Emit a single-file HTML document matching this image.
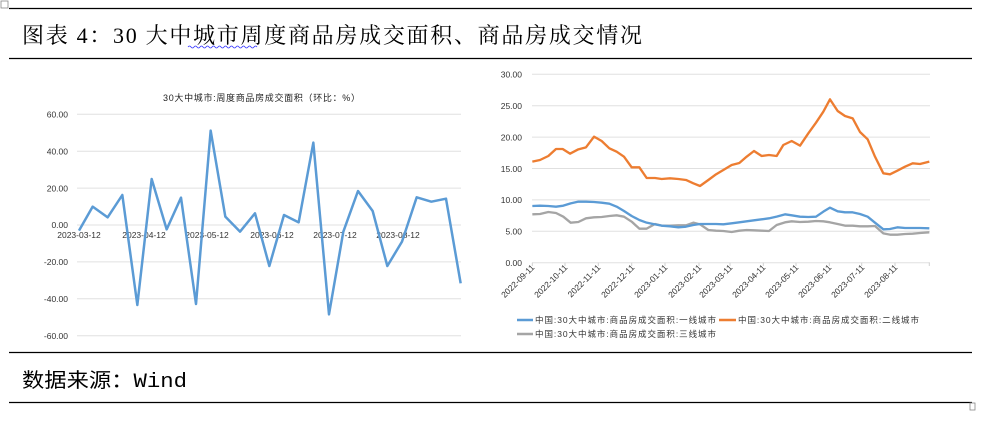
<!DOCTYPE html>
<html><head><meta charset="utf-8"><style>
html,body{margin:0;padding:0;background:#fff;}
svg{display:block;}
.t{font-family:"Liberation Sans","Noto Sans CJK SC",sans-serif;fill:#333;}
</style></head><body>
<svg width="989" height="426" xmlns="http://www.w3.org/2000/svg">
<rect x="1" y="1" width="7" height="7" fill="none" stroke="#888" stroke-width="0.8"/>
<line x1="9" y1="8.5" x2="972" y2="8.5" stroke="#000" stroke-width="1.2"/>
<line x1="9" y1="58.5" x2="972" y2="58.5" stroke="#000" stroke-width="1.2"/>
<text x="22" y="43" font-family="'Liberation Serif','Noto Serif CJK SC',serif" font-size="22" fill="#000" textLength="620" lengthAdjust="spacing">图表 4：30 大中城市周度商品房成交面积、商品房成交情况</text>
<path d="M188 47 q1.5 -2 3 0 t3 0 t3 0 t3 0 t3 0 t3 0 t3 0 t3 0 t3 0 t3 0 t3 0 t3 0 t3 0 t3 0 t3 0 t3 0 t3 0 t3 0 t3 0 t3 0 t3 0 t3 0 t3 0" fill="none" stroke="#33f" stroke-width="0.8"/>
<line x1="9" y1="352.5" x2="972" y2="352.5" stroke="#000" stroke-width="1.2"/>
<line x1="9" y1="402.5" x2="972" y2="402.5" stroke="#000" stroke-width="1.2"/>
<rect x="970" y="403" width="5" height="7" fill="none" stroke="#888" stroke-width="0.8"/>
<text x="22" y="387" font-family="'Liberation Mono','Noto Sans CJK SC',monospace" font-size="20" fill="#000" textLength="165" lengthAdjust="spacingAndGlyphs">数据来源：Wind</text>

<!-- Left chart -->
<text x="163" y="101" font-size="9" class="t" style="fill:#222" textLength="197" lengthAdjust="spacing">30大中城市:周度商品房成交面积（环比：%）</text>
<g stroke="#e0e0e0" stroke-width="1">
<line x1="77" y1="114.3" x2="461" y2="114.3"/><line x1="77" y1="151.2" x2="461" y2="151.2"/>
<line x1="77" y1="188.1" x2="461" y2="188.1"/><line x1="77" y1="225" x2="461" y2="225"/>
<line x1="77" y1="261.9" x2="461" y2="261.9"/><line x1="77" y1="298.8" x2="461" y2="298.8"/>
<line x1="77" y1="335.7" x2="461" y2="335.7"/>
</g>
<g font-size="8.5" text-anchor="end" class="t">
<text x="68" y="117.5">60.00</text><text x="68" y="154.5">40.00</text><text x="68" y="191.5">20.00</text>
<text x="68" y="228">0.00</text><text x="68" y="265">-20.00</text><text x="68" y="302">-40.00</text><text x="68" y="339">-60.00</text>
</g>
<g font-size="8.5" text-anchor="middle" class="t">
<text x="79" y="238">2023-03-12</text><text x="144" y="238">2023-04-12</text><text x="207" y="238">2023-05-12</text>
<text x="272" y="238">2023-06-12</text><text x="335" y="238">2023-07-12</text><text x="398" y="238">2023-08-12</text>
</g>
<g transform="translate(0,80) scale(0.33333)">
<polyline fill="none" stroke="#5b9bd5" stroke-width="7.5" stroke-linejoin="round" points="237,452 278,380 323,412 367,345 412,675 455,297 500,448 543,353 588,672 632,152 676,410 720,455 765,400 808,558 852,405 896,427 940,188 987,703 1030,455 1074,333 1118,393 1162,558 1206,485 1250,352 1294,365 1338,356 1382,610"/>
</g>

<!-- Right chart -->
<g stroke="#e0e0e0" stroke-width="1">
<line x1="532" y1="74.3" x2="930" y2="74.3"/><line x1="532" y1="105.7" x2="930" y2="105.7"/>
<line x1="532" y1="137.1" x2="930" y2="137.1"/><line x1="532" y1="168.5" x2="930" y2="168.5"/>
<line x1="532" y1="199.9" x2="930" y2="199.9"/><line x1="532" y1="231.3" x2="930" y2="231.3"/>
<line x1="532" y1="262.7" x2="930" y2="262.7"/>
</g>
<g stroke="#d0d0d0" stroke-width="1">
<line x1="532.3" y1="262.7" x2="532.3" y2="266"/><line x1="565" y1="262.7" x2="565" y2="266"/><line x1="598.3" y1="262.7" x2="598.3" y2="266"/><line x1="631.7" y1="262.7" x2="631.7" y2="266"/><line x1="665" y1="262.7" x2="665" y2="266"/><line x1="699" y1="262.7" x2="699" y2="266"/><line x1="730" y1="262.7" x2="730" y2="266"/><line x1="763.3" y1="262.7" x2="763.3" y2="266"/><line x1="796" y1="262.7" x2="796" y2="266"/><line x1="829.3" y1="262.7" x2="829.3" y2="266"/><line x1="861.7" y1="262.7" x2="861.7" y2="266"/><line x1="895" y1="262.7" x2="895" y2="266"/><line x1="929.3" y1="262.7" x2="929.3" y2="266"/>
</g>
<g font-size="8.5" text-anchor="end" class="t">
<text x="522" y="77.5">30.00</text><text x="522" y="109">25.00</text><text x="522" y="140.5">20.00</text>
<text x="522" y="172">15.00</text><text x="522" y="203">10.00</text><text x="522" y="234.5">5.00</text><text x="522" y="266">0.00</text>
</g>
<g font-size="8.5" text-anchor="end" class="t">
<text transform="translate(535,268) rotate(-45)">2022-09-11</text>
<text transform="translate(568,268) rotate(-45)">2022-10-11</text>
<text transform="translate(601,268) rotate(-45)">2022-11-11</text>
<text transform="translate(635,268) rotate(-45)">2022-12-11</text>
<text transform="translate(668,268) rotate(-45)">2023-01-11</text>
<text transform="translate(702,268) rotate(-45)">2023-02-11</text>
<text transform="translate(733,268) rotate(-45)">2023-03-11</text>
<text transform="translate(766,268) rotate(-45)">2023-04-11</text>
<text transform="translate(799,268) rotate(-45)">2023-05-11</text>
<text transform="translate(832,268) rotate(-45)">2023-06-11</text>
<text transform="translate(865,268) rotate(-45)">2023-07-11</text>
<text transform="translate(898,268) rotate(-45)">2023-08-11</text>
</g>
<g transform="translate(480,60) scale(0.33333)" fill="none" stroke-width="7" stroke-linejoin="round">
<polyline stroke="#a5a5a5" points="157,463 180,462 205,456 228,459 250,470 272,488 295,486 318,475 342,472 365,471 388,468 410,466 432,470 455,485 478,506 500,506 525,492 545,497 570,497 595,496 618,496 640,488 660,493 685,510 708,512 730,513 755,516 778,512 800,510 822,511 845,512 867,513 890,495 915,487 935,484 960,486 985,485 1008,483 1030,484 1050,487 1073,492 1095,497 1118,497 1140,499 1163,499 1185,498 1210,520 1230,524 1252,524 1275,522 1298,521 1320,519 1348,517"/>
<polyline stroke="#5b9bd5" points="157,438 180,437 205,438 228,440 250,437 272,430 295,425 318,425 342,426 365,428 388,431 410,440 432,453 455,468 478,480 500,488 525,493 545,497 570,499 595,502 618,500 640,495 660,492 685,492 708,492 730,493 755,490 778,487 800,484 822,481 845,478 867,475 890,470 915,463 935,466 960,470 985,471 1008,470 1030,455 1050,443 1073,454 1095,457 1118,457 1140,462 1163,470 1185,488 1210,508 1230,507 1252,502 1275,504 1298,504 1320,504 1348,505"/>
<polyline stroke="#ed7d31" points="157,305 180,300 205,288 228,267 248,267 270,281 295,268 318,262 342,230 365,243 388,265 410,275 432,290 455,322 478,322 500,354 525,354 545,357 570,355 595,357 618,360 640,370 660,378 685,360 708,343 730,330 755,315 778,309 800,290 822,273 845,288 867,285 890,288 910,255 935,243 960,257 985,220 1008,188 1030,155 1050,118 1073,153 1095,168 1118,175 1140,216 1163,238 1185,290 1210,340 1230,343 1252,332 1275,320 1298,310 1320,312 1348,305"/>
</g>
<g font-size="8.5" class="t">
<line x1="517" y1="320" x2="533" y2="320" stroke="#5b9bd5" stroke-width="2.5"/>
<text x="535" y="323" textLength="181" lengthAdjust="spacing">中国:30大中城市:商品房成交面积:一线城市</text>
<line x1="719" y1="320" x2="736" y2="320" stroke="#ed7d31" stroke-width="2.5"/>
<text x="738" y="323" textLength="181" lengthAdjust="spacing">中国:30大中城市:商品房成交面积:二线城市</text>
<line x1="517" y1="334" x2="533" y2="334" stroke="#a5a5a5" stroke-width="2.5"/>
<text x="535" y="337" textLength="181" lengthAdjust="spacing">中国:30大中城市:商品房成交面积:三线城市</text>
</g>
</svg>
</body></html>
